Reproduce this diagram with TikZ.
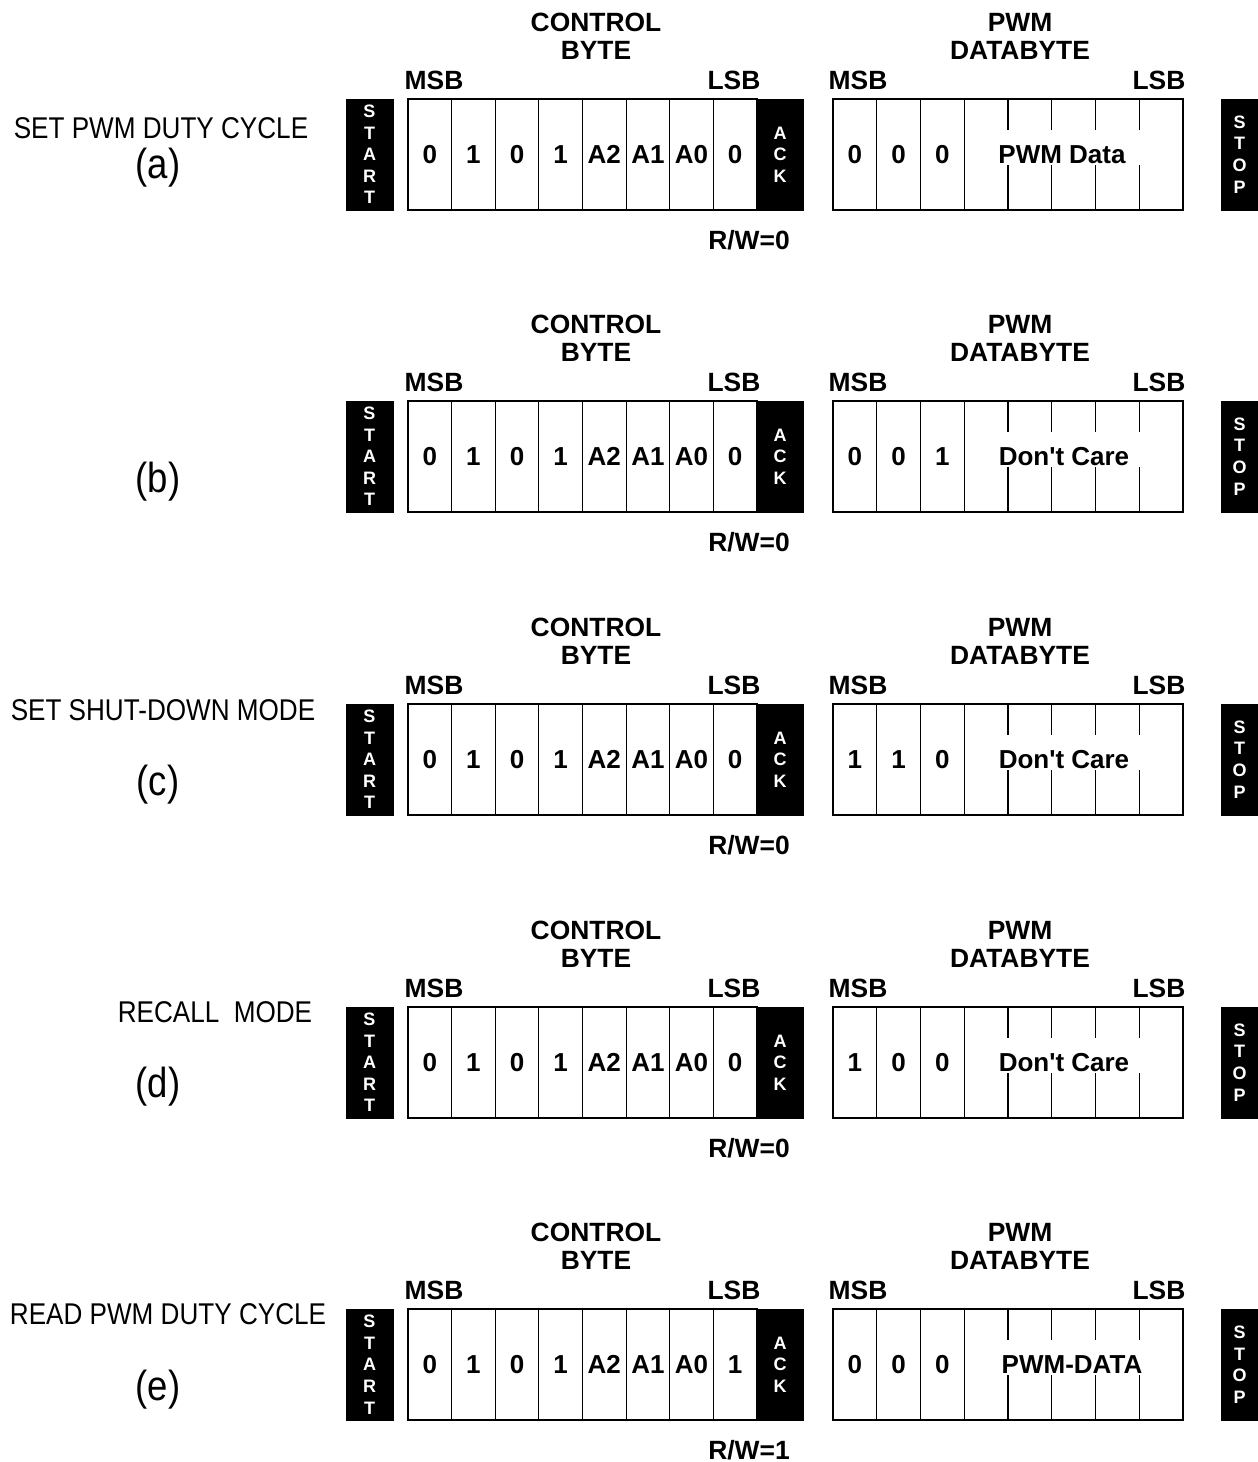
\documentclass[tikz,border=0pt]{standalone}
\usepackage{fontspec}
\usepackage{graphicx}
\setmainfont{Liberation Sans}
\newcommand\narrowtxt[1]{\scalebox{0.87}[1]{#1}}
\tikzset{
  blackbox/.style={fill=black, draw=black, inner sep=0pt, minimum height=55.5pt,
     text=white, font=\bfseries\fontsize{9}{10.8}\selectfont, align=center},
  bitcell/.style={draw=black, line width=0.6pt, inner sep=0pt, minimum height=55.5pt,
     text height=9.4pt, text depth=0pt, font=\bfseries\fontsize{13}{15}\selectfont},
  bittext/.style={inner sep=0pt, text height=9.4pt, text depth=0pt,
     font=\bfseries\fontsize{13}{15}\selectfont},
  hdr/.style={inner sep=0pt, font=\bfseries\fontsize{13.2}{14}\selectfont},
  sidelbl/.style={inner sep=0pt, font=\fontsize{15}{18}\selectfont},
  tag/.style={inner sep=0pt, font=\fontsize{21}{24}\selectfont},
  partline/.style={draw=black, line width=0.6pt},
}
% #1 prefix, #2 y0, #3 LSB bit, #4 #5 #6 data bits, #7 data text, #8 text x, #9 R/W
\newcommand\pwmrow[9]{%
\begin{scope}[shift={(0,#2)}]
  \node[hdr] (#1ctl) at (596,-77) {CONTROL};
  \node[hdr] (#1byte) at (596,-49) {BYTE};
  \node[hdr] (#1pwm) at (1020,-77) {PWM};
  \node[hdr] (#1dbyte) at (1020,-49) {DATABYTE};
  \node[hdr] (#1cmsb) at (434,-19) {MSB};
  \node[hdr] (#1clsb) at (734,-19) {LSB};
  \node[hdr] (#1dmsb) at (858,-19) {MSB};
  \node[hdr] (#1dlsb) at (1159,-19) {LSB};
  \node[hdr] (#1rw) at (749,141) {R/W=#9};
  \node[blackbox, minimum width=23.5pt] (#1start) at (369.5,55.5) {S\\T\\A\\R\\T};
  \foreach \i/\t in {0/0,1/1,2/0,3/1,4/A2,5/A1,6/A0,7/#3}
    \node[bitcell, minimum width=21.8125pt] (#1c\i) at ({429.8125+43.625*\i},55.5) {\t};
  \node[blackbox, minimum width=23pt] (#1ack) at (780,55.5) {A\\C\\K};
  \foreach \i/\t in {0/#4,1/#5,2/#6}
    \node[bitcell, minimum width=21.875pt] (#1d\i) at ({854.875+43.75*\i},55.5) {\t};
  \node[bitcell, minimum width=109.375pt] (#1dd) at (1073.625,55.5) {};
  \node[bittext] (#1dtxt) at (#8,55.5) {#7};
  \foreach \i in {0,1,2,3}{
    \draw[partline] ({1008+43.75*\i},0) -- ({1008+43.75*\i},31);
    \draw[partline] ({1008+43.75*\i},66) -- ({1008+43.75*\i},111);
  }
  \node[blackbox, minimum width=18.5pt] (#1stop) at (1239.5,55.5) {S\\T\\O\\P};
\end{scope}}
\begin{document}
\begin{tikzpicture}[x=0.5pt,y=-0.5pt]
\useasboundingbox (0,0) rectangle (1258,1462);
\pwmrow{ra}{99}{0}{0}{0}{0}{PWM Data}{1062}{0}
\pwmrow{rb}{401}{0}{0}{0}{1}{Don\textquotesingle t Care}{1064}{0}
\pwmrow{rc}{704}{0}{1}{1}{0}{Don\textquotesingle t Care}{1064}{0}
\pwmrow{rd}{1007}{0}{1}{0}{0}{Don\textquotesingle t Care}{1064}{0}
\pwmrow{re}{1309}{1}{0}{0}{0}{PWM-DATA}{1072}{1}
\node[sidelbl] (la) at (161,128) {\narrowtxt{SET PWM DUTY CYCLE}};
\node[tag] (ta) at (158,168) {\narrowtxt{(a)}};
\node[tag] (tb) at (158,482) {\narrowtxt{(b)}};
\node[sidelbl] (lc) at (163,710) {\narrowtxt{SET SHUT-DOWN MODE}};
\node[tag] (tc) at (158,785) {\narrowtxt{(c)}};
\node[sidelbl] (ld) at (215,1012) {\narrowtxt{RECALL\ \ MODE}};
\node[tag] (td) at (158,1087) {\narrowtxt{(d)}};
\node[sidelbl] (le) at (168,1314) {\narrowtxt{READ PWM DUTY CYCLE}};
\node[tag] (te) at (158,1390) {\narrowtxt{(e)}};
\end{tikzpicture}
\end{document}
